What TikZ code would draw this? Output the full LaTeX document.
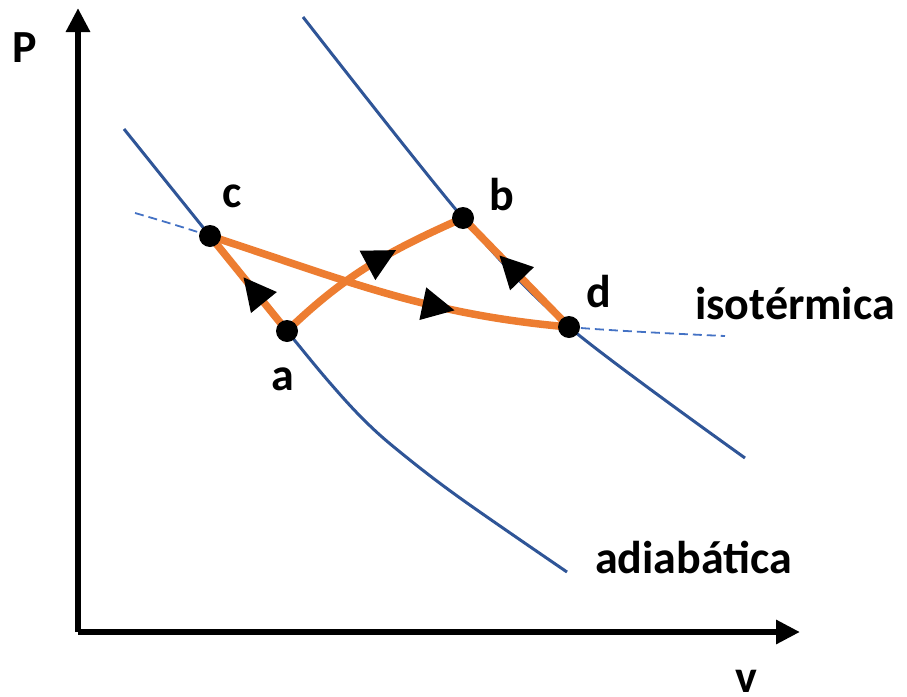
\documentclass[tikz,border=0pt]{standalone}
\usepackage{fontspec}
\setmainfont{Carlito}
\usetikzlibrary{arrows.meta,decorations.markings}
\definecolor{cycleorange}{RGB}{237,125,49}
\definecolor{adiabblue}{RGB}{47,85,151}
\definecolor{isoblue}{RGB}{68,114,196}

\begin{document}
\begin{tikzpicture}[
        x=1pt,y=-1pt,
        inner sep=0pt,
        axis/.style={line width=6.5pt,-{Triangle[length=24pt,width=23pt]}},
        adiabat/.style={adiabblue,line width=3pt},
        isotherm/.style={isoblue,line width=1.8pt,dash pattern=on 9pt off 5pt},
        path/.style={cycleorange,line width=7.5pt,line cap=round},
        flow/.style={postaction={decorate},
          decoration={markings,mark=at position #1 with
            {\arrow{Triangle[length=33pt 0 0,width=31pt 0 0,color=black]}}}},
        dot/.style={circle,fill,minimum size=22pt},
        txt/.style={font=\fontsize{46}{50}\selectfont\bfseries,anchor=base}
      ]
      \useasboundingbox (0,0) rectangle (907,696);

      % axes
      \coordinate (O) at (78,632);
      \coordinate (ytop) at (78,8);
      \coordinate (xend) at (800,632);
      \draw [axis] (O) -- (ytop);
      \draw [axis] (O) -- (xend);
      \node (P) [txt] at (25,62) {P};
      \node (v) [txt] at (746,692) {v};

      % states
      \coordinate (a) at (287,331);
      \coordinate (b) at (463,218);
      \coordinate (c) at (210,236);
      \coordinate (d) at (569,327);

      % adiabats and isotherm
      \draw [adiabat] plot [smooth,tension=0.6] coordinates
        {(124,129) (c) (a) (330,383) (365,421) (400,452) (460,498) (567,572)};
      \draw [adiabat] plot [smooth,tension=0.5] coordinates
        {(303,17) (b) (d) (745,458)};
      \draw [isotherm] plot [smooth,tension=0.6] coordinates
        {(135,213) (c) (340,281) (460,311) (d) (725,336)};

      % cycle
      \draw [path,flow=0.57] (a) -- (c);
      \draw [path,flow=0.65] (a) to[out=44,in=204] (b);
      \draw [path,flow=0.69] (c) to[out=-18,in=175] (d);
      \draw [path,flow=0.66] (d) -- (b);

      \node (dot-a) [dot] at (a) {};
      \node (dot-b) [dot] at (b) {};
      \node (dot-c) [dot] at (c) {};
      \node (dot-d) [dot] at (d) {};

      \node (lbl-a) [txt] at (283,390) {a};
      \node (lbl-b) [txt] at (502,210) {b};
      \node (lbl-c) [txt] at (232,207) {c};
      \node (lbl-d) [txt] at (599,307) {d};
      \node (iso) [txt,anchor=base west] at (695,319) {isotérmica};
      \node (adi) [txt,anchor=base west] at (595,573) {adiabática};
    \end{tikzpicture}
\end{document}
